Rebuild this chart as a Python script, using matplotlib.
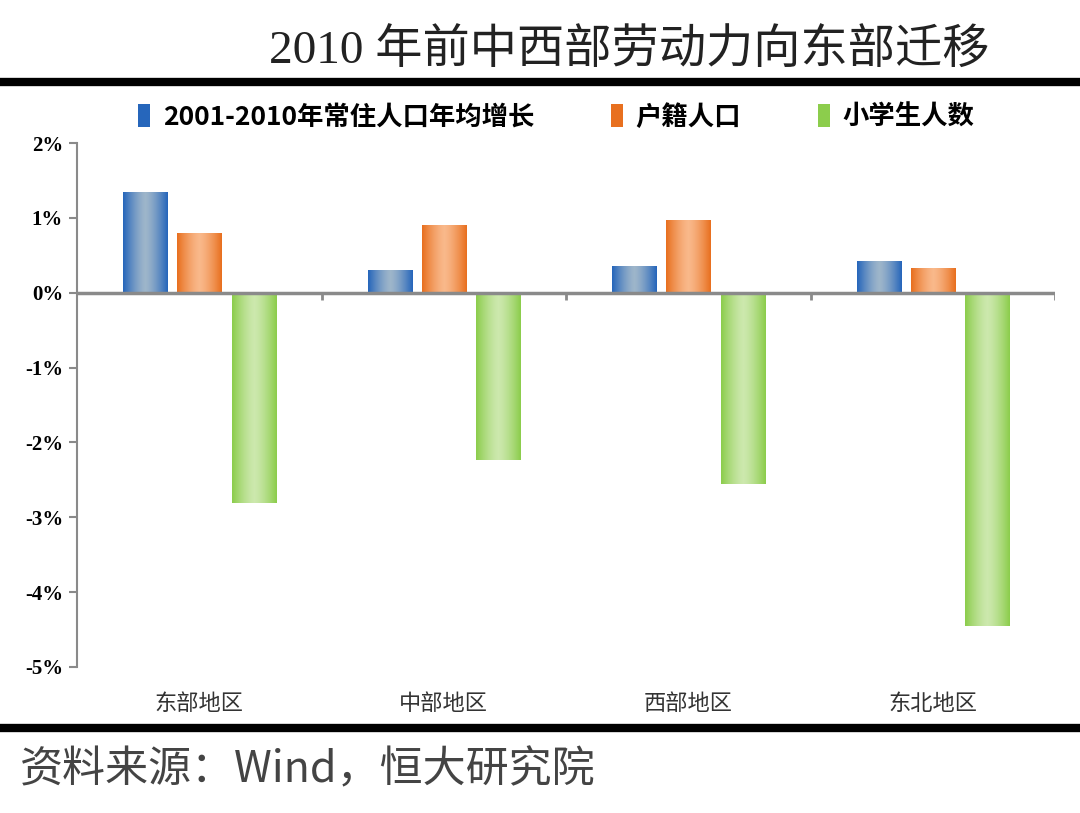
import numpy as np
import matplotlib.pyplot as plt
from matplotlib.colors import LinearSegmentedColormap
from matplotlib.patches import Patch

plt.rcParams['font.family'] = ['Noto Sans CJK SC', 'DejaVu Sans']

# 数据（单位：%）
regions = ["东部地区", "中部地区", "西部地区", "东北地区"]
series_names = ["2001-2010年常住人口年均增长", "户籍人口", "小学生人数"]
resident = [1.35, 0.31, 0.36, 0.43]
hukou = [0.80, 0.91, 0.97, 0.33]
pupils = [-2.81, -2.24, -2.56, -4.45]
yticks = [2, 1, 0, -1, -2, -3, -4, -5]

# 柱子渐变色：边缘 -> 中间 -> 边缘
grads = [("#2666bb", "#9db5ca"), ("#e8701f", "#f9b88a"), ("#8ccd4c", "#cce8ad")]

fig = plt.figure(figsize=(10.8, 8.13), dpi=100)
ax = fig.add_axes([0.0713, 0.1796, 0.9057, 0.6445])

x = np.arange(len(regions))
width = 0.18
offsets = [-0.222, 0.0, 0.222]
grad = np.abs(np.linspace(-1, 1, 64)) ** 1.4
grad = 1 - grad

for vals, off, (edge, mid) in zip([resident, hukou, pupils], offsets, grads):
    cmap = LinearSegmentedColormap.from_list("g", [edge, mid])
    bars = ax.bar(x + off, vals, width, color=mid, edgecolor="none", zorder=2)
    for b in bars:
        x0, y0 = b.get_x(), b.get_y()
        w, h = b.get_width(), b.get_height()
        im = ax.imshow(grad[np.newaxis, :], cmap=cmap, aspect="auto",
                       extent=[x0, x0 + w, y0, y0 + h], zorder=3, vmin=0, vmax=1)
        im.set_clip_path(b)

ax.set_xlim(-0.5, 3.5)
ax.set_ylim(-5, 2)

gray = "#8a8a8a"
ax.axhline(0, color=gray, lw=2.5, zorder=4)
ax.vlines(x + 0.5, -0.1, 0, color=gray, lw=2, zorder=4)

for s in ["top", "right", "bottom"]:
    ax.spines[s].set_visible(False)
ax.spines["left"].set_color(gray)
ax.spines["left"].set_linewidth(1.5)

ax.set_yticks(yticks)
ax.set_yticklabels([f"{t}%" for t in yticks], fontsize=15, fontweight="bold",
                   family=["Liberation Serif"])
ax.tick_params(axis="y", length=6, width=1.5, color=gray, pad=4)
ax.set_xticks(x)
ax.set_xticklabels(regions, fontsize=16, color="#333333")
ax.tick_params(axis="x", length=0, pad=18)

# 图例
handles = [Patch(facecolor=c[0], edgecolor="none") for c in grads]
leg = fig.legend(handles, series_names, loc="center", bbox_to_anchor=(0.515, 0.856),
                 ncol=3, frameon=False, handlelength=0.45, handleheight=1.0,
                 handletextpad=0.5, columnspacing=2.9,
                 prop={"size": 19, "weight": "bold"})

# 标题与分隔线
fig.text(0.583, 0.936, "2010 年前中西部劳动力向东部迁移", ha="center", va="center",
         fontsize=34, family=["Liberation Serif", "Noto Sans CJK SC"], color="#222222")
fig.add_artist(plt.Line2D([0, 1], [0.899, 0.899], color="black", lw=6))
fig.add_artist(plt.Line2D([0, 1], [0.105, 0.105], color="black", lw=6))
fig.text(0.018, 0.053, "资料来源：Wind，恒大研究院", ha="left", va="center",
         fontsize=31, style="italic", color="#444444")

fig.savefig("out.png", dpi=100)
